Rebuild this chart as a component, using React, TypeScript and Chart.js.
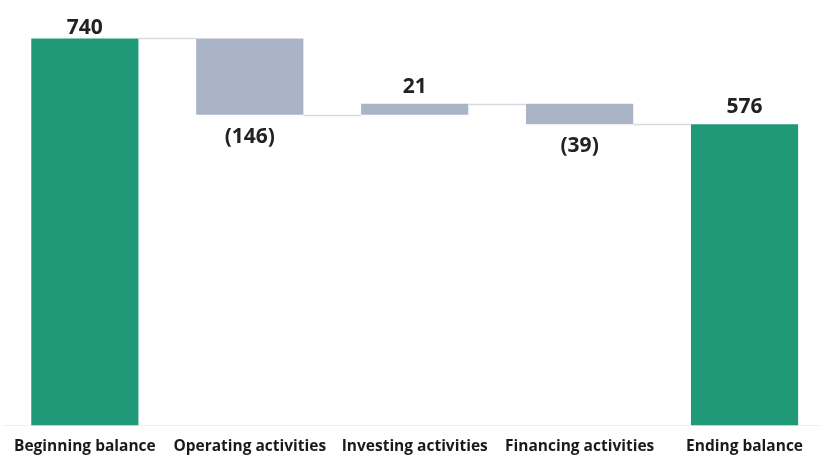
import React, { useEffect, useRef } from "react";
import { Chart, registerables } from "chart.js";

Chart.register(...registerables);

const categories = [
  "Beginning balance",
  "Operating activities",
  "Investing activities",
  "Financing activities",
  "Ending balance",
];
// change values; first and last are totals
const values = [740, -146, 21, -39, 576];
const isTotal = [true, false, false, false, true];
const valueLabels = ["740", "(146)", "21", "(39)", "576"];

const GREEN = "#1f9977";
const GRAY = "#a9b4c7";
const CONNECTOR = "#d6dae1";
const FONT = "'Open Sans', Roboto, sans-serif";

function buildRanges(): [number, number][] {
  const out: [number, number][] = [];
  let run = 0;
  values.forEach((v, i) => {
    if (isTotal[i]) {
      out.push([0, v]);
      run = v;
    } else {
      out.push([run, run + v]);
      run = run + v;
    }
  });
  return out;
}

const waterfallPlugin = {
  id: "waterfallDecor",
  afterDatasetsDraw(chart: any) {
    const meta = chart.getDatasetMeta(0);
    const ctx = chart.ctx;
    const ranges = buildRanges();
    const ys = chart.scales.y;
    ctx.save();
    // connectors
    ctx.strokeStyle = CONNECTOR;
    ctx.lineWidth = 1.5;
    for (let i = 0; i < meta.data.length - 1; i++) {
      const a = meta.data[i];
      const b = meta.data[i + 1];
      const level = ranges[i][1];
      const y = Math.round(ys.getPixelForValue(level)) + 0.5;
      ctx.beginPath();
      ctx.moveTo(a.x + a.width / 2, y);
      ctx.lineTo(b.x - b.width / 2, y);
      ctx.stroke();
    }
    // labels
    ctx.fillStyle = "#222";
    ctx.font = "bold 21px " + FONT;
    ctx.textAlign = "center";
    meta.data.forEach((el: any, i: number) => {
      const r = ranges[i];
      const top = ys.getPixelForValue(Math.max(r[0], r[1]));
      const bottom = ys.getPixelForValue(Math.min(r[0], r[1]));
      ctx.textBaseline = "middle";
      if (values[i] >= 0) {
        const yy = Math.max(top - 17, 28);
        ctx.fillText(valueLabels[i], el.x, yy);
      } else {
        ctx.fillText(valueLabels[i], el.x, bottom + 22);
      }
    });
    ctx.restore();
  },
};

export default function App() {
  const ref = useRef<HTMLCanvasElement | null>(null);
  useEffect(() => {
    if (!ref.current) return;
    const ranges = buildRanges();
    const chart = new Chart(ref.current, {
      type: "bar",
      data: {
        labels: categories,
        datasets: [
          {
            data: ranges as any,
            backgroundColor: isTotal.map((t) => (t ? GREEN : GRAY)),
            borderWidth: 0,
            categoryPercentage: 1,
            barPercentage: 0.65,
            borderSkipped: false,
          },
        ],
      },
      options: {
        animation: false,
        responsive: true,
        maintainAspectRatio: false,
        layout: { padding: { top: 7, bottom: 0, left: 0, right: 0 } },
        plugins: { legend: { display: false }, tooltip: { enabled: false } },
        scales: {
          x: {
            grid: { display: false, drawTicks: false },
            border: { display: true, color: "#f0f0f0", width: 1 },
            ticks: {
              autoSkip: false,
              maxRotation: 0,
              padding: 12,
              color: "#1a1a1a",
              font: { family: FONT, size: 15.5, weight: "bold" },
            },
          },
          y: {
            display: false,
            min: 0,
            max: 800,
          },
        },
      },
      plugins: [waterfallPlugin],
    });
    return () => chart.destroy();
  }, []);
  return (
    <div
      style={{
        position: "fixed",
        left: 0,
        top: 0,
        width: 820,
        height: 456,
        overflow: "hidden",
        background: "#fff",
      }}
    >
      <div style={{ position: "absolute", left: 2, top: 0, width: 825, height: 468 }}>
        <canvas ref={ref} />
      </div>
    </div>
  );
}
